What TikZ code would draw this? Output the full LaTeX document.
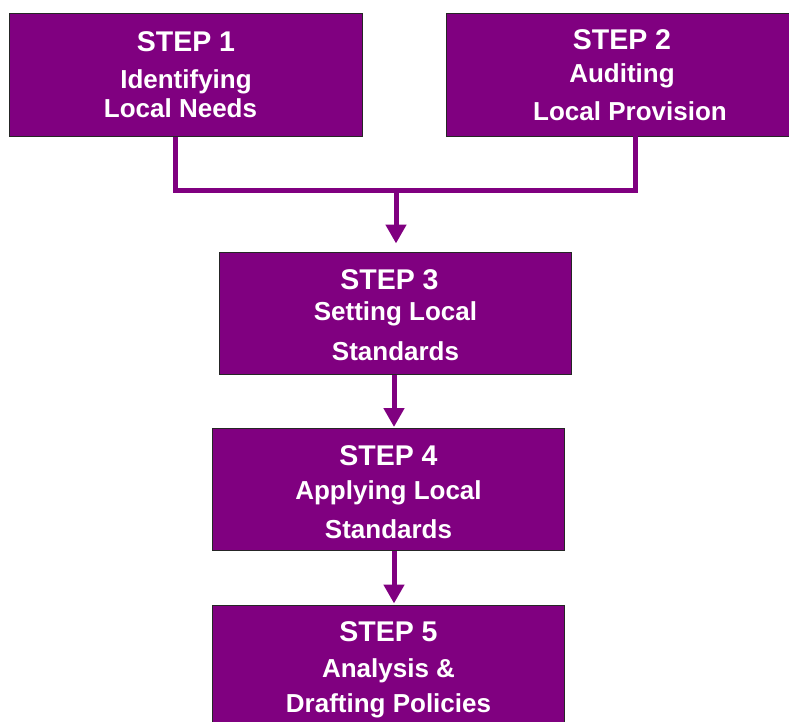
\documentclass[tikz,border=0pt]{standalone}
\usepackage{fontspec}
\setmainfont{Liberation Sans}
\usetikzlibrary{arrows.meta,positioning}
\definecolor{StepPurple}{RGB}{128,0,128}
\tikzset{StepBox/.style={draw=black!85, line width=1bp, fill=StepPurple,
    text=white, inner sep=0pt, minimum width=352bp, minimum height=122bp,
    align=center, font=\bfseries\fontsize{26bp}{31bp}\selectfont}}
\tikzset{LinkLine/.style={draw=StepPurple, line width=5bp}}
\tikzset{LinkArrow/.style={LinkLine, -{Triangle[width=20bp,length=19bp]}}}
% optional first argument: strut height, pushes the text block down
\newcommand{\StepHead}[2][0bp]{{\fontsize{28.5bp}{31bp}\selectfont\rule{0pt}{#1}STEP #2}}

\begin{document}
\begin{tikzpicture}[x=1bp,y=-1bp]
  \useasboundingbox (0,0) rectangle (789,722);
  \begin{scope}
  \clip (0,0) rectangle (789,722);
  \node[StepBox] (s1) at (186,75) {\StepHead{1}\\[6bp] Identifying\hspace*{6bp}\\[-2bp] Local Needs\hspace*{11bp}};
  \node[StepBox] (s2) at (622,75) {\StepHead{2}\\[2bp] Auditing\\[7bp] \hspace*{16bp}Local Provision};
  \node[StepBox] (s3) at (395.5,313) {\StepHead[24.5bp]{3}\hspace*{12bp}\\[0bp] Setting Local\\[9bp] Standards};
  \node[StepBox] (s4) at (388.5,489.5) {\StepHead[24.5bp]{4}\\[3bp] Applying Local\\[8bp] Standards};
  \node[StepBox] (s5) at (388.5,666) {\StepHead[26.5bp]{5}\\[5bp] Analysis \&\\[4bp] Drafting Policies};
  \end{scope}

  \coordinate (j) at (396,190.5);
  \draw[LinkLine] ([xshift=-11bp]s1.south) |- (j)
    -| ([xshift=13.5bp,yshift=4bp]s2.south);
  \draw[LinkArrow, shorten >=8bp] (j) -- (j |- s3.north);
  \draw[LinkArrow, shorten >=1bp] ([xshift=-1.5bp]s3.south)
    -- ([xshift=-1.5bp]s3.south |- s4.north);
  \draw[LinkArrow, shorten >=1bp] ([xshift=5.5bp]s4.south)
    -- ([xshift=5.5bp]s4.south |- s5.north);
\end{tikzpicture}
\end{document}
